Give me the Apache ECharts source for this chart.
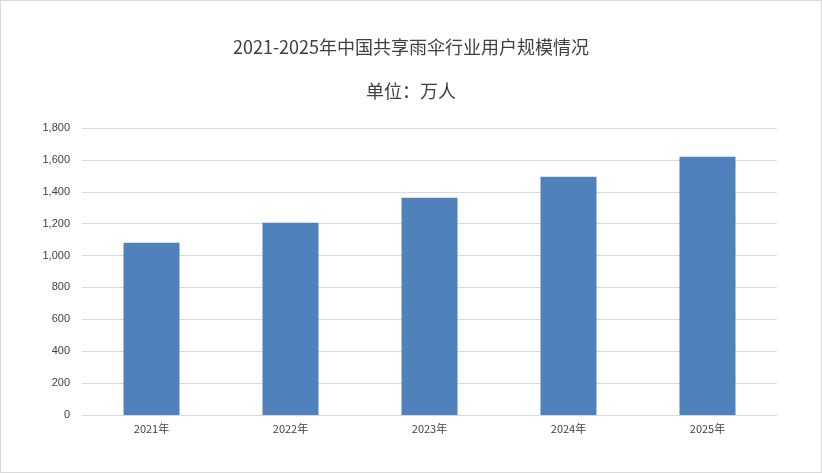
<!DOCTYPE html>
<html><head><meta charset="utf-8">
<script src="https://cdn.jsdelivr.net/npm/echarts@6/dist/echarts.min.js"></script>
<style>html,body{margin:0;padding:0;background:#fff}#c{width:822px;height:473px;box-sizing:border-box;border:1px solid #d9d9d9}</style>
</head><body><div id="c"></div>
<script>
const categories = ['2021年','2022年','2023年','2024年','2025年'];
const users = [1081, 1206, 1362, 1494, 1619];
const chart = echarts.init(document.getElementById('c'));
chart.setOption({
  animation:false,
  title:[
    {text:'2021-2025年中国共享雨伞行业用户规模情况',left:'center',top:32,textStyle:{fontFamily:'Noto Sans CJK SC',fontSize:18,fontWeight:'normal',color:'#404040'}},
    {text:'单位：万人',left:'center',top:76,textStyle:{fontFamily:'Noto Sans CJK SC',fontSize:18,fontWeight:'normal',color:'#404040'}}
  ],
  grid:{left:81,right:44,top:127,bottom:57},
  xAxis:{type:'category',data:categories,axisTick:{show:false},axisLine:{lineStyle:{color:'#d9d9d9'}},
    axisLabel:{color:'#404040',fontSize:11,fontFamily:'Noto Sans CJK SC'}},
  yAxis:{type:'value',min:0,max:1800,interval:200,axisLabel:{color:'#404040',fontSize:11,margin:12},
    splitLine:{lineStyle:{color:'#d9d9d9'}}},
  series:[{type:'bar',data:users,barWidth:56,itemStyle:{color:'#4f81bd'}}]
});
</script></body></html>
